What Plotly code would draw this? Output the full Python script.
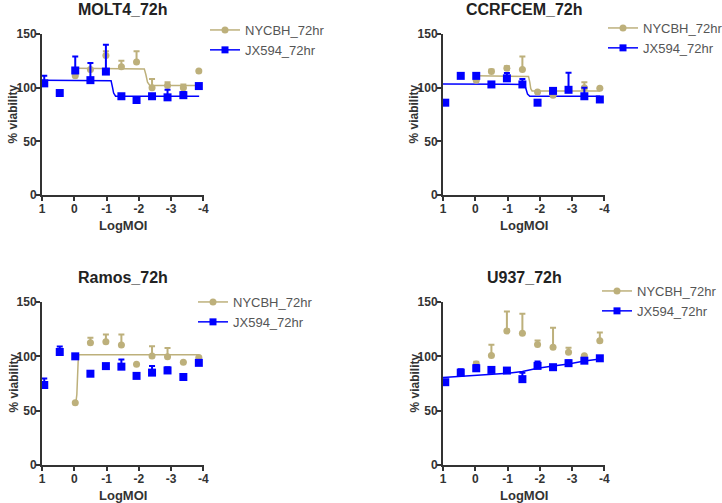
import plotly.graph_objects as go

W, H = 722, 503

# log10 MOI of the 3-fold dilution series
log_moi = [0.93, 0.45, -0.03, -0.5, -0.98, -1.46, -1.93, -2.41, -2.89, -3.38, -3.86]

panel_titles = ["MOLT4_72h", "CCRFCEM_72h", "Ramos_72h", "U937_72h"]
series_names = ["NYCBH_72hr", "JX594_72hr"]

# MOLT4
molt4_nycbh = [None, None, 111, 117, 130, 119.5, 124, 100, 102, 100, 115.5]
molt4_nycbh_err = [0, 0, 3, 0, 4, 5.5, 10, 8, 3, 3, 0]
molt4_jx594 = [104, 95, 116, 107, 115, 92, 88.5, 92, 91, 93, 101.5]
molt4_jx594_err = [7, 0, 13, 16, 25, 2, 0, 2, 7, 3, 0]
molt4_nycbh_fit_x = [-0.05, -2.17, -2.22, -2.27, -2.34, -3.87]
molt4_nycbh_fit_y = [118, 117.5, 112, 105, 102, 102]
molt4_jx594_fit_x = [1, -1.14, -1.18, -1.22, -1.28, -3.87]
molt4_jx594_fit_y = [107, 106.5, 101, 95, 92, 92]

# CCRFCEM
ccrf_nycbh = [None, None, 107, 115, 118, 117, 96, 93, 98, 100, 99.5]
ccrf_nycbh_err = [0, 0, 0, 2, 2, 12, 0, 2, 2, 5, 0]
ccrf_jx594 = [86, 111, 111, 103, 108.7, 103, 86, 97, 98, 92, 89]
ccrf_jx594_err = [0, 0, 2, 2, 5, 5, 0, 2, 16, 8, 0]
ccrf_nycbh_fit_x = [0.0, -1.65, -1.69, -1.72, -1.76, -3.87]
ccrf_nycbh_fit_y = [111, 110.5, 105, 99, 97, 97]
ccrf_jx594_fit_x = [1, -1.52, -1.57, -1.62, -1.69, -3.87]
ccrf_jx594_fit_y = [103.5, 103, 99, 94, 92, 92]

# Ramos
ramos_nycbh = [None, None, 57.3, 112.5, 113.5, 110.4, 92.6, 100.3, 99.7, 94.5, 99]
ramos_nycbh_err = [0, 0, 0, 4.5, 6.5, 9.6, 0, 9, 8, 0, 0]
ramos_jx594 = [73.6, 104, 100, 84, 91, 90.5, 82, 85, 87, 81, 94]
ramos_jx594_err = [6, 5, 0, 0, 0, 6.5, 0, 6, 3, 0, 2]
ramos_nycbh_fit_x = [-0.05, -0.08, -0.12, -0.14, -3.87]
ramos_nycbh_fit_y = [57.5, 65, 95, 101.5, 101.5]

# U937
u937_nycbh = [None, None, 93, 100.7, 123.3, 121.2, 111, 108.4, 103.8, 100.6, 114.4]
u937_nycbh_err = [0, 0, 2, 10, 18, 18, 3.5, 18, 4, 0, 7.5]
u937_jx594 = [76.2, 85, 89, 87.5, 86.9, 79, 91.2, 90, 93.7, 96, 98.2]
u937_jx594_err = [0, 3, 3, 0, 0, 6, 4, 0, 2.5, 0, 0]
u937_jx594_fit_x = [1, 0.45, -0.03, -0.5, -1.0, -1.46, -1.93, -2.41, -2.89, -3.38, -3.87]
u937_jx594_fit_y = [80.5, 81.5, 82.5, 83.5, 84.5, 86, 89, 91, 93, 95.8, 97.6]

TAN = "#BDB07B"
BLUE = "#0000FF"
AXC = "#333333"
FONT = "Liberation Sans, Arial, sans-serif"

panels = [
    dict(nycbh=molt4_nycbh, nycbh_err=molt4_nycbh_err, jx=molt4_jx594, jx_err=molt4_jx594_err,
         nfx=molt4_nycbh_fit_x, nfy=molt4_nycbh_fit_y, jfx=molt4_jx594_fit_x, jfy=molt4_jx594_fit_y,
         box=(42, 204, 34, 195), leg=(205, 15)),
    dict(nycbh=ccrf_nycbh, nycbh_err=ccrf_nycbh_err, jx=ccrf_jx594, jx_err=ccrf_jx594_err,
         nfx=ccrf_nycbh_fit_x, nfy=ccrf_nycbh_fit_y, jfx=ccrf_jx594_fit_x, jfy=ccrf_jx594_fit_y,
         box=(443, 605, 34, 195), leg=(603, 13)),
    dict(nycbh=ramos_nycbh, nycbh_err=ramos_nycbh_err, jx=ramos_jx594, jx_err=ramos_jx594_err,
         nfx=ramos_nycbh_fit_x, nfy=ramos_nycbh_fit_y, jfx=None, jfy=None,
         box=(42, 204, 302, 465), leg=(193, 287)),
    dict(nycbh=u937_nycbh, nycbh_err=u937_nycbh_err, jx=u937_jx594, jx_err=u937_jx594_err,
         nfx=None, nfy=None, jfx=u937_jx594_fit_x, jfy=u937_jx594_fit_y,
         box=(443, 605, 302, 465), leg=(597, 276)),
]

fig = go.Figure()
layout = {}
annotations = []

for i, p in enumerate(panels):
    k = "" if i == 0 else str(i + 1)
    xa, ya = "x" + k, "y" + k
    lg = "legend" + k
    x0, x1, y0, y1 = p["box"]

    # fitted curves
    if p["nfx"] is not None:
        fig.add_trace(go.Scatter(x=p["nfx"], y=p["nfy"], mode="lines", line=dict(color=TAN, width=1.5),
                                 showlegend=False, xaxis=xa, yaxis=ya, hoverinfo="skip"))
    if p["jfx"] is not None:
        fig.add_trace(go.Scatter(x=p["jfx"], y=p["jfy"], mode="lines", line=dict(color=BLUE, width=1.5),
                                 showlegend=False, xaxis=xa, yaxis=ya, hoverinfo="skip"))

    # data points with upper error bars
    fig.add_trace(go.Scatter(
        x=log_moi, y=p["nycbh"], mode="markers", showlegend=False, xaxis=xa, yaxis=ya,
        marker=dict(color=TAN, size=7, symbol="circle"),
        error_y=dict(type="data", symmetric=False, array=p["nycbh_err"], arrayminus=[0] * 11,
                     color=TAN, thickness=2, width=3)))
    fig.add_trace(go.Scatter(
        x=log_moi, y=p["jx"], mode="markers", showlegend=False, xaxis=xa, yaxis=ya,
        marker=dict(color=BLUE, size=8, symbol="square"),
        error_y=dict(type="data", symmetric=False, array=p["jx_err"], arrayminus=[0] * 11,
                     color=BLUE, thickness=2, width=3)))

    # legend entries
    fig.add_trace(go.Scatter(x=[None], y=[None], mode="lines+markers", name=series_names[0], legend=lg,
                             line=dict(color=TAN, width=1.5), marker=dict(color=TAN, size=7, symbol="circle"),
                             xaxis=xa, yaxis=ya))
    fig.add_trace(go.Scatter(x=[None], y=[None], mode="lines+markers", name=series_names[1], legend=lg,
                             line=dict(color=BLUE, width=1.5), marker=dict(color=BLUE, size=7, symbol="square"),
                             xaxis=xa, yaxis=ya))

    layout["xaxis" + k] = dict(
        domain=[x0 / W, x1 / W], range=[1, -4.02], anchor=ya,
        tickvals=[1, 0, -1, -2, -3, -4], ticktext=["1", "0", "-1", "-2", "-3", "-4"],
        showline=True, linecolor=AXC, linewidth=2, ticks="outside", ticklen=4, tickwidth=2,
        tickcolor=AXC, showgrid=False, zeroline=False, ticklabelstandoff=-2,
        tickfont=dict(family=FONT, size=12, color=AXC, weight="bold"))
    layout["yaxis" + k] = dict(
        domain=[1 - y1 / H, 1 - y0 / H], range=[0, 150], anchor=xa,
        tickvals=[0, 50, 100, 150],
        showline=True, linecolor=AXC, linewidth=2, ticks="outside", ticklen=4, tickwidth=2,
        tickcolor=AXC, showgrid=False, zeroline=False, ticklabelstandoff=-3,
        tickfont=dict(family=FONT, size=12, color=AXC, weight="bold"))
    layout[lg] = dict(
        x=p["leg"][0] / W, y=1 - p["leg"][1] / H, xanchor="left", yanchor="top",
        bgcolor="rgba(0,0,0,0)", font=dict(family=FONT, size=13, color="#555555"),
        itemwidth=30, tracegroupgap=0)

    cx = (x0 + x1) / 2
    annotations.append(dict(text="<b>" + panel_titles[i] + "</b>", x=cx / W, y=1 - (y0 - 25) / H,
                            xref="paper", yref="paper", showarrow=False, xanchor="center", yanchor="middle",
                            font=dict(family=FONT, size=16, color="#222222")))
    annotations.append(dict(text="<b>LogMOI</b>", x=cx / W, y=1 - (y1 + 30) / H,
                            xref="paper", yref="paper", showarrow=False, xanchor="center", yanchor="middle",
                            font=dict(family=FONT, size=13, color=AXC)))
    annotations.append(dict(text="<b>% viability</b>", x=(x0 - 29) / W, y=1 - ((y0 + y1) / 2) / H,
                            xref="paper", yref="paper", showarrow=False, xanchor="center", yanchor="middle",
                            textangle=-90, font=dict(family=FONT, size=12, color=AXC)))

fig.update_layout(
    width=W, height=H, margin=dict(l=0, r=0, t=0, b=0, autoexpand=False),
    paper_bgcolor="white", plot_bgcolor="white",
    annotations=annotations, **layout)

# drop the default page margin so the figure sits at the window's corner
fig.write_html("out.html", config={"displayModeBar": False},
               post_script="document.body.style.margin='0';")
